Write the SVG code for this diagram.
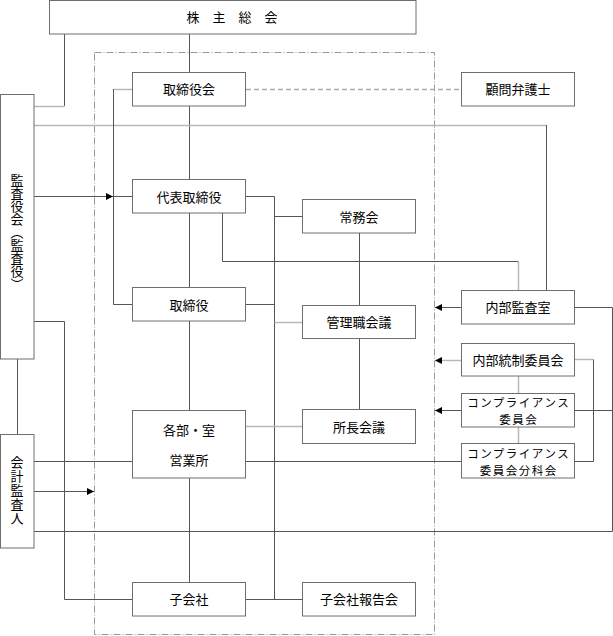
<svg xmlns="http://www.w3.org/2000/svg" width="613" height="636" viewBox="0 0 613 636">
<style>
.box{fill:#fff;stroke:#6e6e6e;stroke-width:1}
.t{font-family:"Noto Sans CJK JP","Noto Sans CJK SC",sans-serif;font-size:13px;fill:#000;text-anchor:middle}
.t2{font-family:"Noto Sans CJK JP","Noto Sans CJK SC",sans-serif;font-size:11.5px;letter-spacing:1.5px;fill:#000;text-anchor:middle}
.vt{font-family:"Noto Sans CJK JP","Noto Sans CJK SC",sans-serif;font-size:13px;fill:#000;writing-mode:vertical-rl;text-anchor:middle}
.d{fill:none;stroke:#555;stroke-width:1}
.l{fill:none;stroke:#b8b8b8;stroke-width:1.5}
.ld{fill:none;stroke:#aaa;stroke-width:1.3;stroke-dasharray:5 3}
.frame{fill:none;stroke:#999;stroke-width:1;stroke-dasharray:7 2 1 2}
</style>
<defs>
<marker id="arr" markerWidth="8" markerHeight="7" refX="7" refY="3.5" orient="auto" markerUnits="userSpaceOnUse">
<path d="M0,0 L7,3.5 L0,7 z" fill="#000"/>
</marker>
</defs>
<rect class="frame" x="94.5" y="52.5" width="340" height="582"/>
<g id="connectors">
<path class="d" d="M189.5 34 V72 M189.5 106 V179 M189.5 213 V287 M189.5 321 V410 M189.5 478 V582"/>
<path class="d" d="M64.5 34 V106"/>
<path class="l" d="M64.5 106.5 H34"/>
<path class="l" d="M34 125.5 H546.5"/>
<path class="d" d="M546.5 125 V290"/>
<path class="l" d="M132 89.5 H113.5"/>
<path class="d" d="M113.5 89 V304.5 H132"/>
<path class="ld" d="M246 89.5 H461"/>
<path class="d" d="M34 196.5 H113" marker-end="url(#arr)"/>
<path class="d" d="M113 196.5 H132"/>
<path class="d" d="M246 196.5 H274.5 V599"/>
<path class="d" d="M274.5 216.5 H302"/>
<path class="d" d="M222.5 213 V261.5 H518.5"/>
<path class="l" d="M518.5 261.5 V290"/>
<path class="d" d="M359.5 233 V305 M359.5 338.5 V409"/>
<path class="d" d="M246 304.5 H274.5"/>
<path class="l" d="M274.5 322.5 H302"/>
<path class="l" d="M246 426.5 H302"/>
<path class="d" d="M34 461.5 H132 M246 461.5 H461"/>
<path class="d" d="M34 491.5 H94" marker-end="url(#arr)"/>
<path class="d" d="M34 531.5 H612.5 V307.5 H575"/>
<path class="d" d="M17.5 359 V434"/>
<path class="d" d="M34 321.5 H64.5 V599.5 H132"/>
<path class="d" d="M246 599.5 H302"/>
<path class="d" d="M461 307.5 H435" marker-end="url(#arr)"/>
<path class="l" d="M461 360.5 H435" marker-end="url(#arr)"/>
<path class="l" d="M575 359.5 H593.5"/>
<path class="d" d="M593.5 359.5 V461.5 H575"/>
<path class="d" d="M461 410.5 H435" marker-end="url(#arr)"/>
<path class="d" d="M575 410.5 H612.5"/>
<path class="l" d="M518.5 376 V393 M518.5 427 V443"/>
</g>
<g id="kabunushi">
<rect class="box" x="49.5" y="0.5" width="366.5" height="33.5"/>
<text class="t" x="232" y="21.5">株　主　総　会</text>
</g>
<g id="torishimariyakukai">
<rect class="box" x="132.5" y="72.5" width="113" height="33.5"/>
<text class="t" x="189" y="94">取締役会</text>
</g>
<g id="komon">
<rect class="box" x="461.5" y="72.5" width="113" height="33.5"/>
<text class="t" x="518" y="94">顧問弁護士</text>
</g>
<g id="daihyo">
<rect class="box" x="132.5" y="179.5" width="113" height="33.5"/>
<text class="t" x="189" y="201.5">代表取締役</text>
</g>
<g id="jomukai">
<rect class="box" x="302.5" y="199.5" width="113" height="33.5"/>
<text class="t" x="359" y="221.5">常務会</text>
</g>
<g id="torishimariyaku">
<rect class="box" x="132.5" y="287.5" width="113" height="33.5"/>
<text class="t" x="189" y="309.5">取締役</text>
</g>
<g id="naibukansa">
<rect class="box" x="461.5" y="290.5" width="113" height="33.5"/>
<text class="t" x="518" y="312">内部監査室</text>
</g>
<g id="kanrishoku">
<rect class="box" x="302.5" y="305.5" width="113" height="33"/>
<text class="t" x="359" y="327">管理職会議</text>
</g>
<g id="naibutosei">
<rect class="box" x="461.5" y="343.5" width="113" height="32.5"/>
<text class="t" x="518" y="365">内部統制委員会</text>
</g>
<g id="compliance">
<rect class="box" x="461.5" y="393.5" width="113" height="33.5"/>
<text class="t2" x="518.7" y="406.5">コンプライアンス</text>
<text class="t2" x="518.7" y="423.5">委員会</text>
</g>
<g id="kakubu">
<rect class="box" x="132.5" y="410.5" width="113" height="67.5"/>
<text class="t" x="189" y="435">各部・室</text>
<text class="t" x="189" y="465">営業所</text>
</g>
<g id="shocho">
<rect class="box" x="302.5" y="409.5" width="113" height="34"/>
<text class="t" x="359" y="431.5">所長会議</text>
</g>
<g id="bunkakai">
<rect class="box" x="461.5" y="443.5" width="113" height="34.5"/>
<text class="t2" x="518.7" y="457.5">コンプライアンス</text>
<text class="t2" x="518.7" y="474.5">委員会分科会</text>
</g>
<g id="kogaisha">
<rect class="box" x="132.5" y="582.5" width="113" height="33.5"/>
<text class="t" x="189" y="604">子会社</text>
</g>
<g id="kogaishahokoku">
<rect class="box" x="302.5" y="582.5" width="113" height="33.5"/>
<text class="t" x="359" y="604">子会社報告会</text>
</g>
<g id="kansayaku">
<rect class="box" x="0.5" y="94.5" width="33.5" height="264.5"/>
<text class="vt" x="17" y="232">監査役会（監査役）</text>
</g>
<g id="kaikei">
<rect class="box" x="0.5" y="434.5" width="33.5" height="113.5"/>
<text class="vt" x="17" y="491" letter-spacing="1">会計監査人</text>
</g>
</svg>
